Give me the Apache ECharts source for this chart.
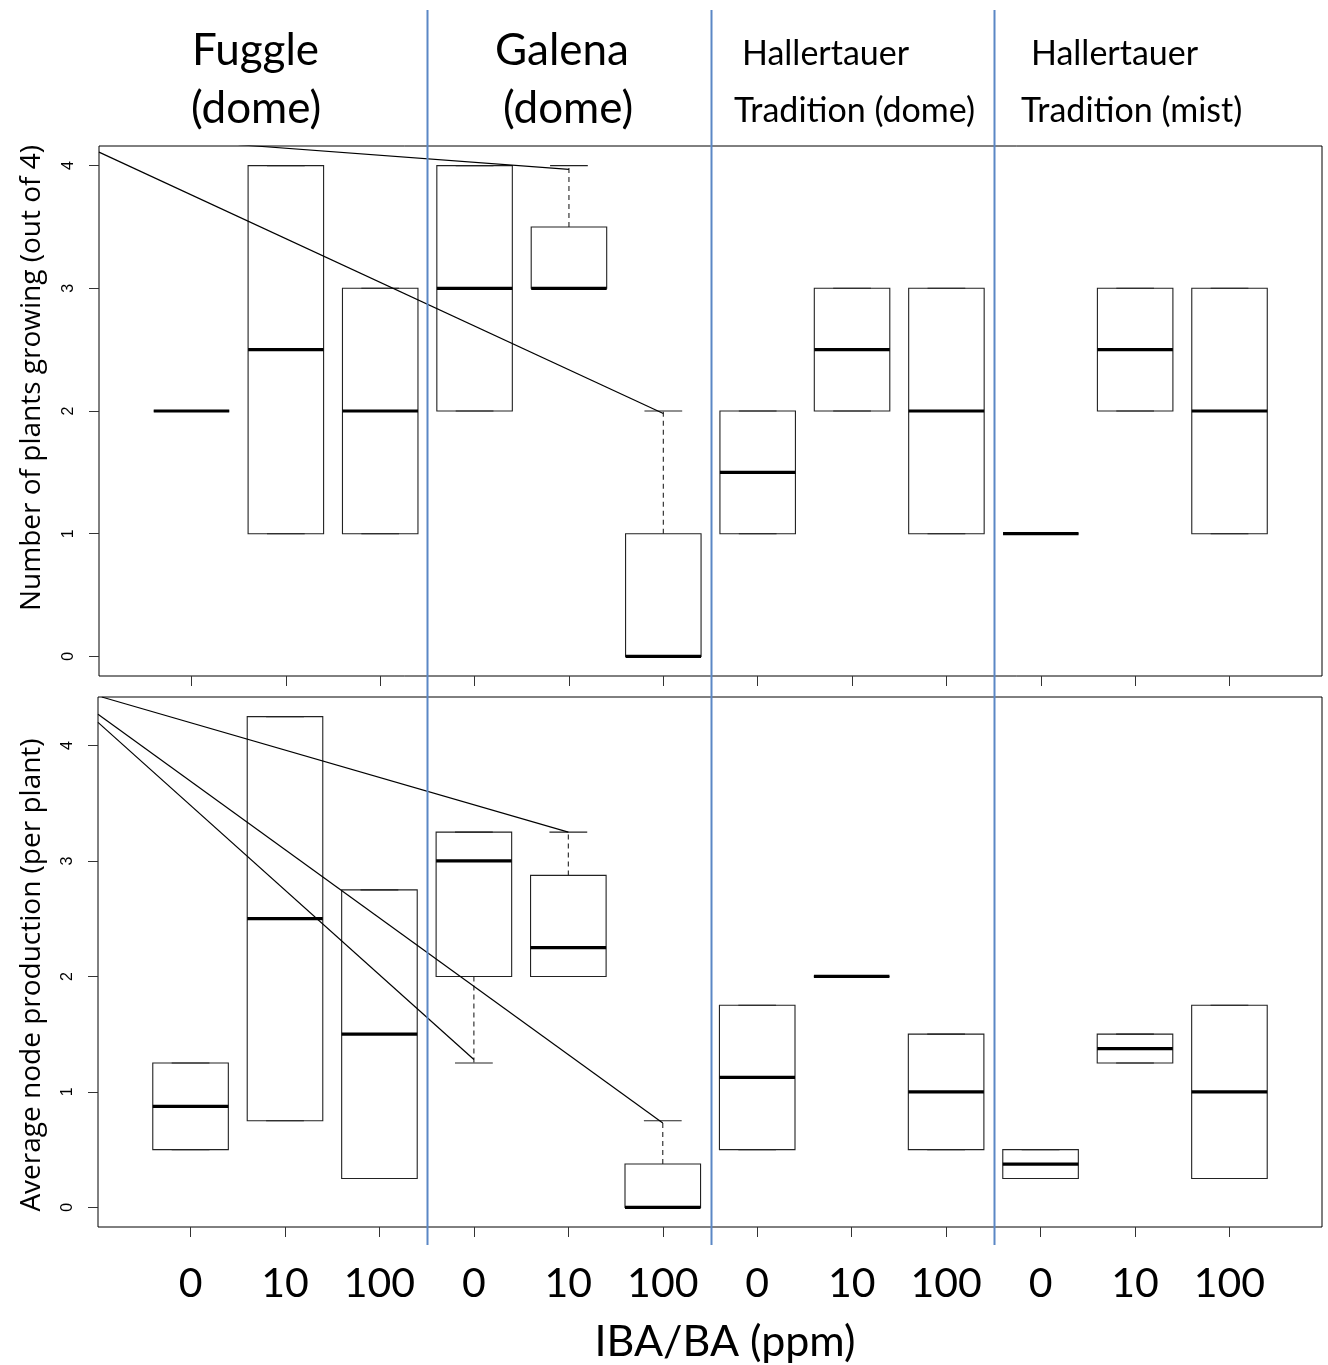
<!DOCTYPE html>
<html>
<head>
<meta charset="utf-8">
<script src="https://cdn.jsdelivr.net/npm/echarts@6/dist/echarts.min.js"></script>
<style>
  html, body { margin: 0; padding: 0; background: #fff; }
  #chart { width: 1328px; height: 1365px; }
</style>
</head>
<body>
<div id="chart"></div>
<script>
// box positions and their tick labels (IBA/BA dose, ppm)
const positions = [1, 2, 3, 4, 5, 6, 7, 8, 9, 10, 11, 12];
const doses = ["0", "10", "100", "0", "10", "100", "0", "10", "100", "0", "10", "100"];
const yTicks = [0, 1, 2, 3, 4];
const groupBreaks = [3.5, 6.5, 9.5];
const groupTitles = [
  ["Fuggle", "(dome)"],
  ["Galena", "(dome)"],
  ["Hallertauer", "Tradition (dome)"],
  ["Hallertauer", "Tradition (mist)"]
];
const yTitles = ["Number of plants growing (out of 4)", "Average node production (per plant)"];

// top panel: number of plants growing (out of 4)
const topLow = [2, 1, 1, 2, 3, 0, 1, 2, 1, 1, 2, 1];
const topQ1 = [2, 1, 1, 2, 3, 0, 1, 2, 1, 1, 2, 1];
const topMed = [2, 2.5, 2, 3, 3, 0, 1.5, 2.5, 2, 1, 2.5, 2];
const topQ3 = [2, 4, 3, 4, 3.5, 1, 2, 3, 3, 1, 3, 3];
const topHigh = [2, 4, 3, 4, 4, 2, 2, 3, 3, 1, 3, 3];

// bottom panel: average node production (per plant)
const botLow = [0.5, 0.75, 0.25, 1.25, 2, 0, 0.5, 2, 0.5, 0.25, 1.25, 0.25];
const botQ1 = [0.5, 0.75, 0.25, 2, 2, 0, 0.5, 2, 0.5, 0.25, 1.25, 0.25];
const botMed = [0.875, 2.5, 1.5, 3, 2.25, 0, 1.125, 2, 1, 0.375, 1.375, 1];
const botQ3 = [1.25, 4.25, 2.75, 3.25, 2.875, 0.375, 1.75, 2, 1.5, 0.5, 1.5, 1.75];
const botHigh = [1.25, 4.25, 2.75, 3.25, 3.25, 0.75, 1.75, 2, 1.5, 0.5, 1.5, 1.75];

// annotation lines drawn over the panels
const topNoteA = [[1.5, 4.17], [5.0, 3.97]];
const topNoteB = [[0.02, 4.11], [6.0, 1.98]];
const botNoteC = [[0.06, 4.42], [5.0, 3.25]];
const botNoteD = [[0.02, 4.27], [6.0, 0.73]];
const botNoteE = [[0.02, 4.2], [4.0, 1.28]];

function boxData(low, q1, med, q3, high) {
  return positions.map((x, i) => [x, low[i], q1[i], med[i], q3[i], high[i]]);
}

function renderBox(params, api) {
  const x = api.value(0);
  const low = api.value(1), q1 = api.value(2), med = api.value(3), q3 = api.value(4), high = api.value(5);
  const halfW = api.size([0.8, 0])[0] / 2;
  const capW = api.size([0.4, 0])[0] / 2;
  const cx = api.coord([x, 0])[0];
  const y = v => api.coord([x, v])[1];
  const thin = { stroke: "#222", lineWidth: 1.1, fill: null };
  const dash = { stroke: "#222", lineWidth: 1.1, lineDash: [5, 4] };
  const kids = [];
  kids.push({ type: "line", shape: { x1: cx, y1: y(q3), x2: cx, y2: y(high) }, style: dash });
  kids.push({ type: "line", shape: { x1: cx, y1: y(q1), x2: cx, y2: y(low) }, style: dash });
  kids.push({ type: "line", shape: { x1: cx - capW, y1: y(high), x2: cx + capW, y2: y(high) }, style: thin });
  kids.push({ type: "line", shape: { x1: cx - capW, y1: y(low), x2: cx + capW, y2: y(low) }, style: thin });
  kids.push({
    type: "rect",
    shape: { x: cx - halfW, y: y(q3), width: halfW * 2, height: y(q1) - y(q3) },
    style: thin
  });
  kids.push({
    type: "line",
    shape: { x1: cx - halfW, y1: y(med), x2: cx + halfW, y2: y(med) },
    style: { stroke: "#000", lineWidth: 3.2 }
  });
  return { type: "group", children: kids };
}

function noteLine(data, idx) {
  return {
    type: "line",
    xAxisIndex: idx,
    yAxisIndex: idx,
    data: data,
    symbol: "none",
    silent: true,
    z: 5,
    lineStyle: { color: "#000", width: 1.2 }
  };
}

const chart = echarts.init(document.getElementById("chart"));

const xAxisBase = {
  type: "value",
  min: 0.02,
  max: 12.98,
  axisLine: { show: false, onZero: false },
  splitLine: { show: false },
  axisTick: { show: true, customValues: positions, length: 10, lineStyle: { color: "#333", width: 1 } }
};

const yAxisBase = {
  type: "value",
  axisLine: { show: false, onZero: false },
  splitLine: { show: false },
  axisTick: { show: true, customValues: yTicks, length: 10, lineStyle: { color: "#333", width: 1 } },
  axisLabel: {
    customValues: yTicks,
    rotate: 90,
    margin: 22,
    fontFamily: "Liberation Sans",
    fontSize: 16,
    color: "#000"
  }
};

chart.setOption({
  animation: false,
  backgroundColor: "#fff",
  grid: [
    { left: 99, top: 146, width: 1223, height: 530, show: true, borderColor: "#000", borderWidth: 1 },
    { left: 98, top: 697, width: 1224, height: 530, show: true, borderColor: "#000", borderWidth: 1 }
  ],
  xAxis: [
    Object.assign({}, xAxisBase, { gridIndex: 0, axisLabel: { show: false } }),
    Object.assign({}, xAxisBase, {
      gridIndex: 1,
      axisLabel: {
        customValues: positions,
        formatter: v => doses[positions.indexOf(v)],
        margin: 36,
        fontFamily: "Lato",
        fontSize: 41,
        color: "#000"
      },
      name: "IBA/BA (ppm)",
      nameLocation: "middle",
      nameGap: 94,
      nameTextStyle: { fontFamily: "Lato", fontSize: 43, color: "#000", padding: [0, 0, 0, 30] }
    })
  ],
  yAxis: [
    Object.assign({}, yAxisBase, { gridIndex: 0, min: -0.16, max: 4.16 }),
    Object.assign({}, yAxisBase, { gridIndex: 1, min: -0.17, max: 4.42 })
  ],
  series: [
    {
      type: "custom",
      xAxisIndex: 0,
      yAxisIndex: 0,
      renderItem: renderBox,
      encode: { x: 0, y: [1, 2, 3, 4, 5] },
      data: boxData(topLow, topQ1, topMed, topQ3, topHigh)
    },
    {
      type: "custom",
      xAxisIndex: 1,
      yAxisIndex: 1,
      renderItem: renderBox,
      encode: { x: 0, y: [1, 2, 3, 4, 5] },
      data: boxData(botLow, botQ1, botMed, botQ3, botHigh)
    },
    noteLine(topNoteA, 0),
    noteLine(topNoteB, 0),
    noteLine(botNoteC, 1),
    noteLine(botNoteD, 1),
    noteLine(botNoteE, 1)
  ]
});

// group separators and group titles, placed through the x scale
const graphics = groupBreaks.map(b => {
  const px = Math.round(chart.convertToPixel({ xAxisIndex: 0 }, b)) + 0.5;
  return {
    type: "line",
    z: 10,
    shape: { x1: px, y1: 10, x2: px, y2: 1245 },
    style: { stroke: "#5b87c5", lineWidth: 2 }
  };
});

const titleSpots = [
  { left: [192, 191], top: [51, 109], size: 44 },
  { left: [495, 503], top: [51, 109], size: 44 },
  { left: [742, 734], top: [54, 111], size: 34 },
  { left: [1031, 1021], top: [54, 111], size: 34 }
];
groupTitles.forEach((lines, g) => {
  lines.forEach((txt, k) => {
    graphics.push({
      type: "text",
      x: titleSpots[g].left[k],
      y: titleSpots[g].top[k],
      style: {
        text: txt,
        fontFamily: "Lato",
        fontSize: titleSpots[g].size,
        fill: "#000",
        textAlign: "left",
        textVerticalAlign: "middle"
      }
    });
  });
});

// y-axis titles (placed like the text boxes of the original)
[378, 975].forEach((cy, k) => {
  graphics.push({
    type: "text",
    x: 32,
    y: cy,
    rotation: Math.PI / 2,
    style: {
      text: yTitles[k],
      fontFamily: "Open Sans",
      fontSize: 28,
      fill: "#000",
      textAlign: "center",
      textVerticalAlign: "middle"
    }
  });
});

chart.setOption({ graphic: graphics });
</script>
</body>
</html>
